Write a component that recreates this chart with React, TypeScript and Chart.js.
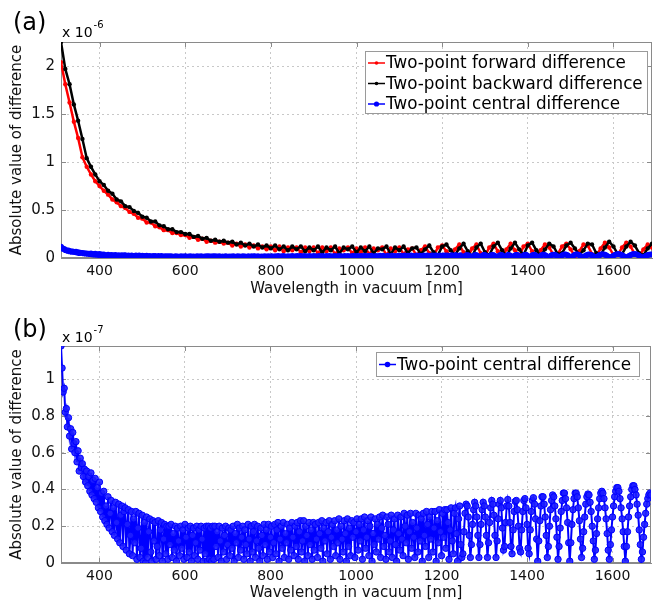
import React, { useEffect, useRef } from 'react';
import { Chart, registerables } from 'chart.js';

Chart.register(...registerables);

// ---------- data ----------
const WL_MIN = 310; // nm
const WL_MAX = 1690; // nm
const STEP_FB = 10; // nm, sampling of forward/backward series
const STEP_C = 2.5; // nm, sampling of central series

// panel (a), units of 1e-6
const forwardDiff = [
  2.04, 1.81, 1.62, 1.42, 1.25, 1.05, 0.95, 0.87, 0.80, 0.75,
  0.70, 0.66, 0.61, 0.58, 0.54, 0.52, 0.48, 0.46, 0.42, 0.41,
  0.37, 0.37, 0.33, 0.32, 0.29, 0.29, 0.26, 0.26, 0.24, 0.24,
  0.21, 0.22, 0.19, 0.20, 0.17, 0.18, 0.16, 0.17, 0.15, 0.16,
  0.13, 0.15, 0.12, 0.14, 0.11, 0.13, 0.10, 0.12, 0.09, 0.12,
  0.08, 0.12, 0.07, 0.11, 0.08, 0.11, 0.06, 0.11, 0.07, 0.11,
  0.05, 0.11, 0.07, 0.11, 0.04, 0.10, 0.08, 0.11, 0.05, 0.10,
  0.06, 0.11, 0.04, 0.10, 0.08, 0.11, 0.03, 0.10, 0.07, 0.11,
  0.04, 0.09, 0.10, 0.03, 0.08, 0.12, 0.05, 0.02, 0.11, 0.13,
  0.07, 0.02, 0.09, 0.14, 0.06, 0.01, 0.10, 0.14, 0.05, 0.02,
  0.11, 0.15, 0.07, 0.01, 0.09, 0.15, 0.08, 0.02, 0.12, 0.15,
  0.07, 0.01, 0.08, 0.14, 0.11, 0.03, 0.04, 0.12, 0.15, 0.09,
  0.02, 0.07, 0.14, 0.13, 0.04, 0.02, 0.10, 0.16, 0.11, 0.03,
  0.03, 0.11, 0.16, 0.12, 0.04, 0.02, 0.09, 0.14, 0.11,
];

const backwardDiff = [
  2.25, 1.97, 1.81, 1.60, 1.43, 1.24, 1.04, 0.95, 0.87, 0.80,
  0.76, 0.70, 0.67, 0.61, 0.59, 0.54, 0.53, 0.49, 0.47, 0.43,
  0.42, 0.38, 0.38, 0.34, 0.33, 0.30, 0.30, 0.27, 0.27, 0.25,
  0.25, 0.22, 0.23, 0.20, 0.21, 0.18, 0.19, 0.17, 0.18, 0.16,
  0.17, 0.14, 0.16, 0.13, 0.15, 0.12, 0.14, 0.11, 0.13, 0.10,
  0.13, 0.09, 0.12, 0.08, 0.12, 0.09, 0.12, 0.07, 0.11, 0.08,
  0.12, 0.06, 0.11, 0.08, 0.12, 0.05, 0.11, 0.09, 0.12, 0.06,
  0.11, 0.07, 0.12, 0.05, 0.10, 0.09, 0.12, 0.04, 0.11, 0.08,
  0.12, 0.05, 0.10, 0.11, 0.04, 0.09, 0.13, 0.06, 0.03, 0.12,
  0.14, 0.08, 0.03, 0.10, 0.15, 0.07, 0.02, 0.11, 0.15, 0.06,
  0.03, 0.12, 0.16, 0.08, 0.02, 0.10, 0.16, 0.09, 0.03, 0.13,
  0.16, 0.08, 0.02, 0.09, 0.15, 0.12, 0.04, 0.05, 0.13, 0.16,
  0.10, 0.03, 0.08, 0.15, 0.14, 0.05, 0.03, 0.11, 0.17, 0.12,
  0.04, 0.04, 0.12, 0.17, 0.13, 0.05, 0.03, 0.10, 0.15,
];

// panel (b), units of 1e-7, one row = 50 nm
const centralDiff = [
  1.18, 1.06, 0.93, 0.95, 0.82, 0.84, 0.74, 0.79, 0.69, 0.73, 0.62, 0.71, 0.65, 0.60, 0.66, 0.55, 0.61, 0.50, 0.57, 0.52,
  0.54, 0.47, 0.51, 0.44, 0.50, 0.42, 0.47, 0.39, 0.49, 0.37, 0.45, 0.35, 0.46, 0.33, 0.41, 0.30, 0.44, 0.28, 0.38, 0.25,
  0.39, 0.23, 0.31, 0.21, 0.36, 0.19, 0.27, 0.34, 0.17, 0.30, 0.15, 0.33, 0.22, 0.13, 0.32, 0.11, 0.26, 0.31, 0.09, 0.28,
  0.30, 0.07, 0.21, 0.29, 0.05, 0.15, 0.28, 0.04, 0.24, 0.11, 0.28, 0.02, 0.19, 0.27, 0.03, 0.08, 0.26, 0.01, 0.22, 0.00,
  0.25, 0.03, 0.17, 0.24, 0.06, 0.01, 0.23, 0.12, 0.22, 0.02, 0.09, 0.23, 0.04, 0.18, 0.22, 0.01, 0.13, 0.21, 0.05, 0.20,
  0.02, 0.20, 0.10, 0.21, 0.03, 0.16, 0.07, 0.20, 0.01, 0.19, 0.12, 0.04, 0.20, 0.08, 0.18, 0.02, 0.21, 0.14, 0.03, 0.19,
  0.06, 0.20, 0.01, 0.15, 0.19, 0.04, 0.11, 0.20, 0.02, 0.18, 0.07, 0.20, 0.13, 0.01, 0.19, 0.05, 0.20, 0.01, 0.20, 0.02,
  0.19, 0.01, 0.20, 0.02, 0.20, 0.09, 0.17, 0.03, 0.20, 0.12, 0.01, 0.19, 0.06, 0.15, 0.20, 0.02, 0.10, 0.19, 0.04, 0.18,
  0.08, 0.20, 0.01, 0.16, 0.11, 0.21, 0.03, 0.19, 0.07, 0.14, 0.20, 0.02, 0.18, 0.10, 0.05, 0.21, 0.13, 0.01, 0.20, 0.06,
  0.17, 0.21, 0.03, 0.12, 0.20, 0.08, 0.01, 0.19, 0.15, 0.04, 0.21, 0.10, 0.18, 0.02, 0.21, 0.06, 0.14, 0.20, 0.03, 0.11,
  0.21, 0.05, 0.18, 0.22, 0.01, 0.13, 0.20, 0.08, 0.22, 0.03, 0.16, 0.11, 0.21, 0.02, 0.19, 0.07, 0.22, 0.14, 0.04, 0.20,
  0.09, 0.22, 0.02, 0.17, 0.23, 0.06, 0.12, 0.23, 0.01, 0.20, 0.15, 0.04, 0.22, 0.10, 0.18, 0.02, 0.22, 0.07, 0.21, 0.13,
  0.03, 0.22, 0.16, 0.08, 0.23, 0.01, 0.19, 0.12, 0.22, 0.05, 0.17, 0.23, 0.02, 0.14, 0.21, 0.09, 0.23, 0.04, 0.18, 0.11,
  0.24, 0.02, 0.20, 0.13, 0.06, 0.23, 0.16, 0.01, 0.24, 0.09, 0.19, 0.04, 0.23, 0.14, 0.22, 0.03, 0.17, 0.24, 0.07, 0.21,
  0.12, 0.24, 0.02, 0.18, 0.25, 0.08, 0.14, 0.23, 0.04, 0.20, 0.25, 0.01, 0.16, 0.10, 0.24, 0.06, 0.21, 0.13, 0.25, 0.03,
  0.19, 0.26, 0.09, 0.15, 0.02, 0.25, 0.21, 0.06, 0.12, 0.26, 0.03, 0.18, 0.24, 0.10, 0.01, 0.26, 0.16, 0.07, 0.25, 0.13,
  0.04, 0.27, 0.20, 0.11, 0.26, 0.02, 0.17, 0.27, 0.08, 0.22, 0.14, 0.03, 0.27, 0.19, 0.06, 0.26, 0.12, 0.24, 0.01, 0.27,
  0.15, 0.09, 0.28, 0.21, 0.03, 0.25, 0.13, 0.28, 0.06, 0.19, 0.28, 0.01, 0.23, 0.11, 0.29, 0.17, 0.04, 0.27, 0.14, 0.29,
  0.08, 0.29, 0.22, 0.02, 0.18, 0.30, 0.12, 0.05, 0.27, 0.30, 0.16, 0.01, 0.24, 0.31, 0.10, 0.03, 0.05, 0.17, 0.27, 0.32,
  0.31, 0.25, 0.15, 0.03, 0.10, 0.21, 0.29, 0.33, 0.31, 0.25, 0.15, 0.03, 0.10, 0.21, 0.29, 0.33, 0.31, 0.25, 0.15, 0.03,
  0.11, 0.22, 0.30, 0.34, 0.32, 0.26, 0.15, 0.03, 0.12, 0.24, 0.32, 0.34, 0.30, 0.19, 0.07, 0.09, 0.22, 0.31, 0.345, 0.31,
  0.22, 0.09, 0.05, 0.18, 0.28, 0.335, 0.34, 0.29, 0.20, 0.08, 0.06, 0.18, 0.28, 0.34, 0.35, 0.30, 0.21, 0.08, 0.05, 0.18,
  0.28, 0.34, 0.355, 0.32, 0.24, 0.13, 0.01, 0.12, 0.23, 0.31, 0.36, 0.36, 0.32, 0.25, 0.15, 0.03, 0.09, 0.20, 0.29, 0.34,
  0.37, 0.36, 0.31, 0.24, 0.14, 0.02, 0.09, 0.19, 0.28, 0.34, 0.38, 0.38, 0.35, 0.30, 0.22, 0.11, 0.01, 0.11, 0.21, 0.29,
  0.35, 0.38, 0.38, 0.36, 0.30, 0.23, 0.13, 0.03, 0.08, 0.17, 0.25, 0.32, 0.36, 0.375, 0.37, 0.33, 0.28, 0.20, 0.12, 0.02,
  0.07, 0.16, 0.24, 0.30, 0.35, 0.38, 0.39, 0.38, 0.35, 0.30, 0.24, 0.16, 0.07, 0.02, 0.10, 0.18, 0.25, 0.31, 0.36, 0.39,
  0.41, 0.41, 0.39, 0.35, 0.30, 0.24, 0.17, 0.09, 0.01, 0.09, 0.17, 0.25, 0.31, 0.36, 0.40, 0.42, 0.42, 0.40, 0.37, 0.32,
  0.26, 0.18, 0.10, 0.02, 0.06, 0.14, 0.21, 0.27, 0.32, 0.35, 0.37, 0.38, 0.37,
];

const xTicks = [400, 600, 800, 1000, 1200, 1400, 1600];
const yTicksA = [0, 0.5, 1, 1.5, 2];
const yTicksB = [0, 0.2, 0.4, 0.6, 0.8, 1];
const Y_MAX_A = 2.25;
const Y_MAX_B = 1.18;
const C_TO_A = 0.1; // 1e-7 -> 1e-6 units

const legendA = [
  'Two-point forward difference',
  'Two-point backward difference',
  'Two-point central difference',
];
const legendB = ['Two-point central difference'];
const X_TITLE = 'Wavelength in vacuum [nm]';
const Y_TITLE = 'Absolute value of difference';

// ---------- styles ----------
const FONT = '"DejaVu Sans", sans-serif';
const AXIS = '#8a8a8a';
const GRID = '#c8c8c8';
const RED = '#ff0000';
const BLACK = '#000000';
const BLUE = '#0000ff';

const toPts = (vals: number[], step: number, k = 1) =>
  vals.map((v, i) => ({ x: WL_MIN + i * step, y: v * k }));

const decoPlugin = {
  id: 'deco',
  beforeDatasetsDraw(chart: any) {
    const { ctx, chartArea: a, scales } = chart;
    ctx.save();
    ctx.strokeStyle = AXIS;
    ctx.lineWidth = 1;
    const tl = 5;
    ctx.beginPath();
    for (const t of scales.x.ticks) {
      const px = Math.round(scales.x.getPixelForValue(t.value)) + 0.5;
      ctx.moveTo(px, a.bottom);
      ctx.lineTo(px, a.bottom - tl);
      ctx.moveTo(px, a.top);
      ctx.lineTo(px, a.top + tl);
    }
    for (const t of scales.y.ticks) {
      const py = Math.round(scales.y.getPixelForValue(t.value)) + 0.5;
      ctx.moveTo(a.left, py);
      ctx.lineTo(a.left + tl, py);
      ctx.moveTo(a.right, py);
      ctx.lineTo(a.right - tl, py);
    }
    ctx.stroke();
    ctx.strokeRect(a.left + 0.5, a.top + 0.5, a.right - a.left - 1, a.bottom - a.top - 1);
    ctx.restore();
  },
  afterDraw(chart: any, _args: any, opts: any) {
    const { ctx } = chart;
    ctx.save();
    ctx.fillStyle = '#000';
    ctx.textBaseline = 'middle';
    ctx.textAlign = 'left';
    // panel label
    ctx.font = `24px ${FONT}`;
    ctx.fillText(opts.label, 13, opts.labelY);
    // exponent
    ctx.font = `14px ${FONT}`;
    const base = 'x 10';
    ctx.fillText(base, 62, opts.expY);
    const w = ctx.measureText(base).width;
    ctx.font = `10px ${FONT}`;
    ctx.fillText(opts.exp, 62 + w + 1, opts.expY - 8);
    // legend
    const b = opts.box;
    ctx.fillStyle = '#fff';
    ctx.fillRect(b.x, b.y, b.w, b.h);
    ctx.strokeStyle = '#9a9a9a';
    ctx.lineWidth = 1;
    ctx.strokeRect(b.x + 0.5, b.y + 0.5, b.w, b.h);
    opts.items.forEach((it: any, i: number) => {
      const y = opts.rows[i];
      ctx.strokeStyle = it.color;
      ctx.lineWidth = 1.5;
      ctx.beginPath();
      ctx.moveTo(b.x + 3, y);
      ctx.lineTo(b.x + 20, y);
      ctx.stroke();
      ctx.fillStyle = it.color;
      ctx.beginPath();
      ctx.arc(b.x + 11.5, y, it.r, 0, Math.PI * 2);
      ctx.fill();
      ctx.fillStyle = '#000';
      ctx.font = `16.8px ${FONT}`;
      ctx.fillText(it.text, b.x + 21, y + 1);
    });
    ctx.restore();
  },
};

function makeConfig(panel: 'a' | 'b'): any {
  const isA = panel === 'a';
  const datasets: any[] = isA
    ? [
        {
          label: legendA[0],
          data: toPts(forwardDiff, STEP_FB),
          borderColor: RED,
          backgroundColor: RED,
          borderWidth: 2.5,
          pointRadius: 2.2,
          pointBorderWidth: 0,
          order: 3,
        },
        {
          label: legendA[1],
          data: toPts(backwardDiff, STEP_FB),
          borderColor: BLACK,
          backgroundColor: BLACK,
          borderWidth: 2.5,
          pointRadius: 2.2,
          pointBorderWidth: 0,
          order: 2,
        },
        {
          label: legendA[2],
          data: toPts(centralDiff, STEP_C, C_TO_A),
          borderColor: BLUE,
          backgroundColor: BLUE,
          borderWidth: 2,
          pointRadius: 2.8,
          pointBorderWidth: 0,
          order: 1,
        },
      ]
    : [
        {
          label: legendB[0],
          data: toPts(centralDiff, STEP_C),
          borderColor: BLUE,
          backgroundColor: 'rgba(30,30,255,0.9)',
          borderWidth: 2,
          pointRadius: 3.2,
          pointBorderWidth: 1,
          pointBorderColor: BLUE,
        },
      ];

  const yTicks = isA ? yTicksA : yTicksB;
  return {
    type: 'line',
    data: { datasets },
    options: {
      animation: false,
      responsive: false,
      devicePixelRatio: 1,
      layout: { padding: { top: isA ? 42 : 43, right: 1, left: 0, bottom: 0 } },
      plugins: {
        legend: { display: false },
        tooltip: { enabled: false },
        deco: isA
          ? {
              label: '(a)',
              labelY: 24,
              exp: '-6',
              expY: 33,
              box: { x: 365, y: 51, w: 282, h: 62 },
              rows: [63, 83.5, 104],
              items: [
                { text: legendA[0], color: RED, r: 1.8 },
                { text: legendA[1], color: BLACK, r: 1.8 },
                { text: legendA[2], color: BLUE, r: 2.6 },
              ],
            }
          : {
              label: '(b)',
              labelY: 28,
              exp: '-7',
              expY: 35,
              box: { x: 376, y: 49, w: 263, h: 24 },
              rows: [61.5],
              items: [{ text: legendB[0], color: BLUE, r: 2.8 }],
            },
      },
      scales: {
        x: {
          type: 'linear',
          min: WL_MIN,
          max: WL_MAX,
          afterBuildTicks: (s: any) => {
            s.ticks = xTicks.map((value) => ({ value }));
          },
          afterFit: (s: any) => {
            s.height = isA ? 45 : 44;
          },
          grid: { color: GRID, drawTicks: false, lineWidth: 1 },
          border: { color: AXIS, dash: [2, 3] },
          ticks: {
            color: '#111',
            font: { family: FONT, size: 14 },
            padding: 5,
            maxRotation: 0,
            autoSkip: false,
            callback: (v: any) => String(v),
          },
          title: {
            display: true,
            text: X_TITLE,
            color: '#111',
            font: { family: FONT, size: 15 },
            padding: { top: 0, bottom: 5 },
          },
        },
        y: {
          type: 'linear',
          min: 0,
          max: isA ? Y_MAX_A : Y_MAX_B,
          afterBuildTicks: (s: any) => {
            s.ticks = yTicks.map((value) => ({ value }));
          },
          afterFit: (s: any) => {
            s.width = 61;
          },
          grid: { color: GRID, drawTicks: false, lineWidth: 1 },
          border: { color: AXIS, dash: [2, 3] },
          ticks: {
            color: '#111',
            font: { family: FONT, size: 15 },
            padding: 6,
            autoSkip: false,
            callback: (v: any) => String(v),
          },
          title: {
            display: true,
            text: Y_TITLE,
            color: '#111',
            font: { family: FONT, size: 15 },
            padding: { top: 8, bottom: 0 },
          },
        },
      },
    },
    plugins: [decoPlugin],
  };
}

export default function App() {
  const refA = useRef<HTMLCanvasElement>(null);
  const refB = useRef<HTMLCanvasElement>(null);
  useEffect(() => {
    document.body.style.margin = '0';
    const ca = new Chart(refA.current as HTMLCanvasElement, makeConfig('a'));
    const cb = new Chart(refB.current as HTMLCanvasElement, makeConfig('b'));
    return () => {
      ca.destroy();
      cb.destroy();
    };
  }, []);
  return (
    <div style={{ position: 'absolute', left: 0, top: 0, width: 656, height: 607, background: '#fff' }}>
      <canvas ref={refA} width={656} height={303} style={{ position: 'absolute', left: 0, top: 0 }} />
      <canvas ref={refB} width={656} height={304} style={{ position: 'absolute', left: 0, top: 303 }} />
    </div>
  );
}
